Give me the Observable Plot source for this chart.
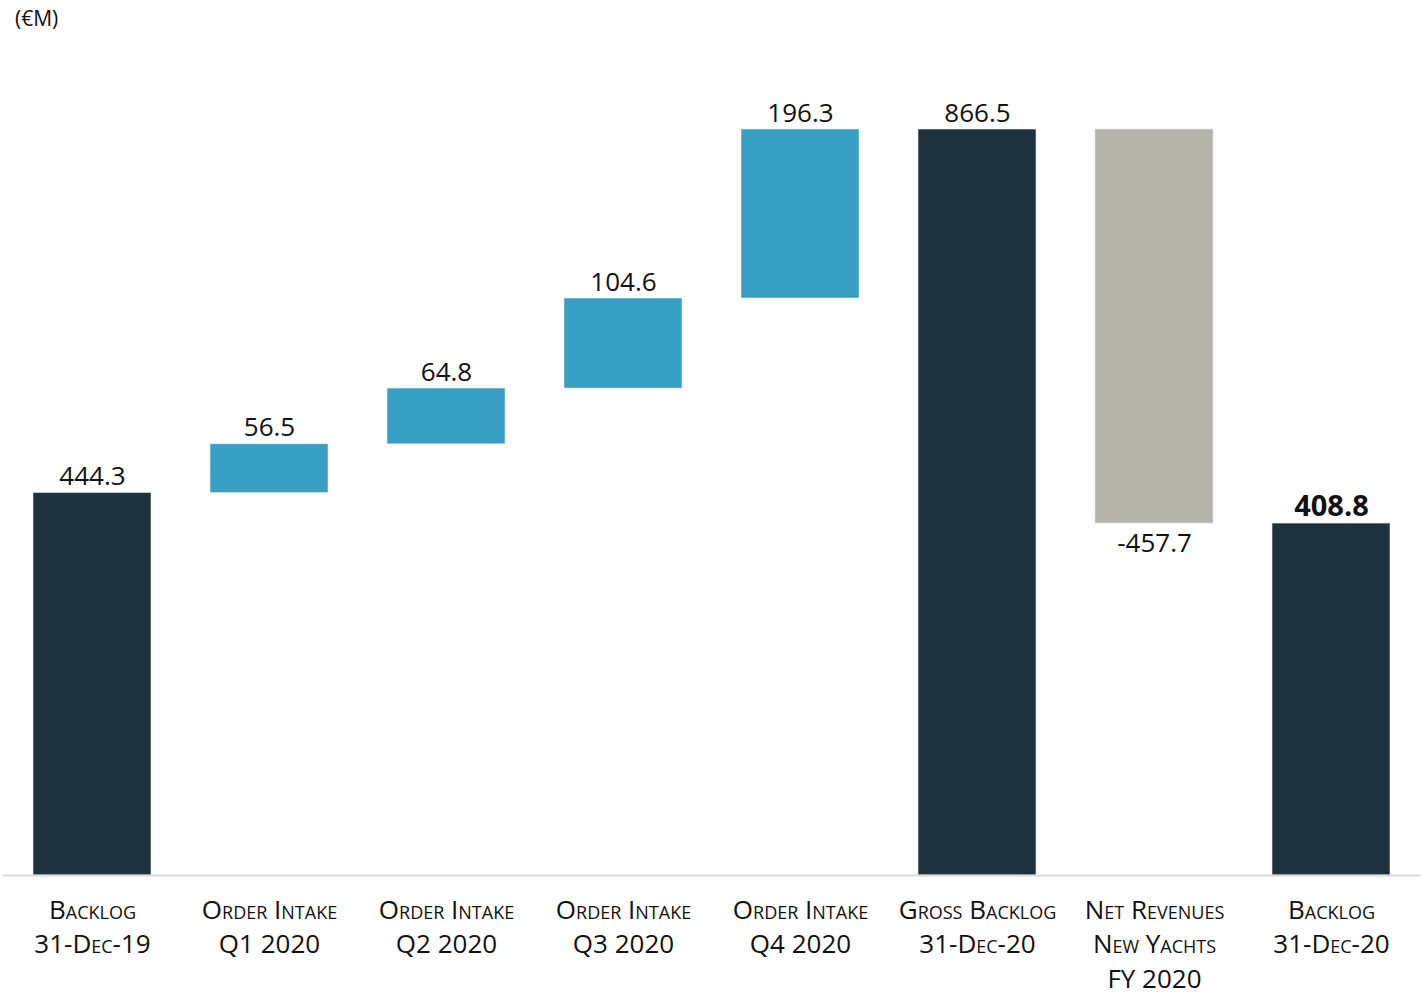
<!DOCTYPE html>
<html>
<head>
<meta charset="utf-8">
<script src="https://cdn.jsdelivr.net/npm/d3@7"></script>
<script src="https://cdn.jsdelivr.net/npm/@observablehq/plot@0.6"></script>
<style>
  html, body { margin: 0; padding: 0; background: #fff; overflow: hidden; }
  #unit { height: 40px; font-family: "Open Sans", sans-serif; font-size: 21px; color: #111; padding-left: 15px; line-height: 36px; box-sizing: border-box; }
  #chart svg { display: block; }
</style>
</head>
<body>
<div id="unit">(€M)</div>
<div id="chart"></div>
<script>
const categories = [
  "Backlog\n31-Dec-19",
  "Order Intake\nQ1 2020",
  "Order Intake\nQ2 2020",
  "Order Intake\nQ3 2020",
  "Order Intake\nQ4 2020",
  "Gross Backlog\n31-Dec-20",
  "Net Revenues\nNew Yachts\nFY 2020",
  "Backlog\n31-Dec-20"
];
const values = [444.3, 56.5, 64.8, 104.6, 196.3, 866.5, -457.7, 408.8];
const kinds = ["total", "intake", "intake", "intake", "intake", "total", "revenue", "final"];
const valueLabels = ["444.3", "56.5", "64.8", "104.6", "196.3", "866.5", "-457.7", "408.8"];

// waterfall table
let running = 0;
const rows = categories.map((c, i) => {
  const k = kinds[i];
  let y1, y2;
  if (k === "total" || k === "final") { y1 = 0; y2 = values[i]; running = values[i]; }
  else { y1 = running; y2 = running + values[i]; running = y2; }
  return {cat: c, kind: k, y1, y2, top: Math.max(y1, y2), bottom: Math.min(y1, y2), label: valueLabels[i], neg: values[i] < 0};
});

const colors = {total: "#1e323e", final: "#1e323e", intake: "#389fc4", revenue: "#b4b4ab"};
const font = "'Open Sans', sans-serif";

const plot = Plot.plot({
  width: 1422,
  height: 953,
  marginLeft: 2.5,
  marginRight: 1.5,
  marginTop: 89,
  marginBottom: 118,
  style: {fontFamily: font, background: "#fff"},
  x: {domain: categories, paddingInner: 0.333, paddingOuter: 0.1667, axis: null},
  y: {domain: [0, 866.5], axis: null},
  marks: [
    Plot.barY(rows, {x: "cat", y1: "y1", y2: "y2", fill: (d) => colors[d.kind], stroke: "#e6e6e6", strokeWidth: 0.6}),
    Plot.ruleY([0], {stroke: "#d9d9d9", strokeWidth: 2}),
    Plot.text(rows.filter(d => !d.neg && d.kind !== "final"), {x: "cat", y: "top", text: "label", lineAnchor: "bottom", dy: -8, fontSize: 26, fill: "#111"}),
    Plot.text(rows.filter(d => d.kind === "final"), {x: "cat", y: "top", text: "label", lineAnchor: "bottom", dy: -8, fontSize: 29, fontWeight: "bold", fill: "#111"}),
    Plot.text(rows.filter(d => d.neg), {x: "cat", y: "bottom", text: "label", lineAnchor: "top", dy: 10, fontSize: 26, fill: "#111"}),
    Plot.text(rows, {x: "cat", y: 0, text: "cat", lineAnchor: "top", dy: 19, fontSize: 26, lineHeight: 1.32, fontVariant: "small-caps", fill: "#111"})
  ]
});
document.getElementById("chart").appendChild(plot);
</script>
</body>
</html>
